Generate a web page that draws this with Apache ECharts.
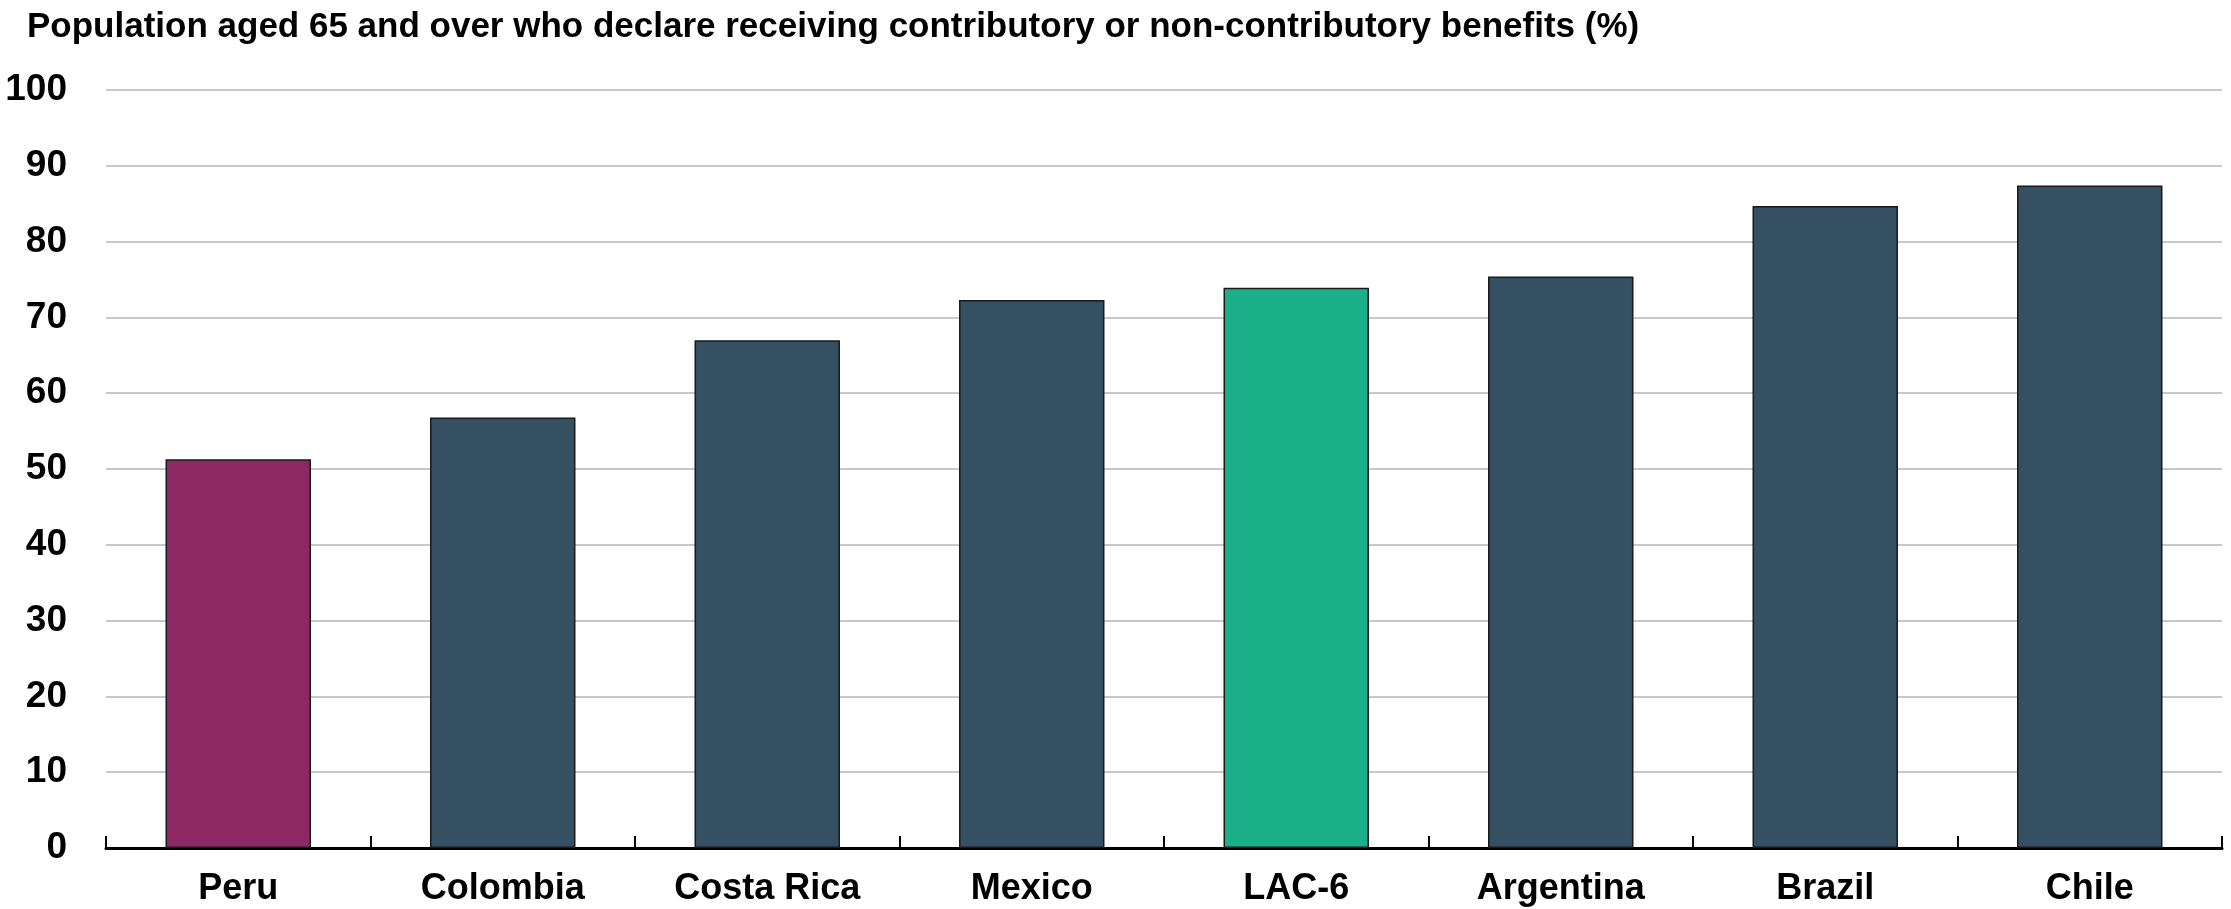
<!DOCTYPE html>
<html>
<head>
<meta charset="utf-8">
<script src="https://cdn.jsdelivr.net/npm/echarts@6/dist/echarts.min.js"></script>
<style>
  html, body { margin: 0; padding: 0; background: #ffffff; }
  #chart { width: 2231px; height: 909px; }
</style>
</head>
<body>
<div id="chart"></div>
<script>
// Share of people aged 65+ receiving contributory or non-contributory benefits
const categories = ['Peru', 'Colombia', 'Costa Rica', 'Mexico', 'LAC-6', 'Argentina', 'Brazil', 'Chile'];
const coverage = [51.3, 56.8, 67.0, 72.3, 73.9, 75.4, 84.7, 87.4];
const yTicks = [0, 10, 20, 30, 40, 50, 60, 70, 80, 90, 100];
const titleText = 'Population aged 65 and over who declare receiving contributory or non-contributory benefits (%)';

const COLOR_DEFAULT = '#354F63';
const COLOR_FOCUS = '#8E2864';
const COLOR_AVERAGE = '#1BAF8A';

function barColor(name) {
  if (name === 'Peru') return COLOR_FOCUS;
  if (name === 'LAC-6') return COLOR_AVERAGE;
  return COLOR_DEFAULT;
}

const FONT = '"Liberation Sans", Arial, sans-serif';

const chart = echarts.init(document.getElementById('chart'), null, { renderer: 'canvas' });

chart.setOption({
  backgroundColor: '#ffffff',
  animation: false,
  title: {
    text: titleText,
    left: 22,
    top: 5,
    textStyle: { fontFamily: FONT, fontWeight: 'bold', fontSize: 35, color: '#000000' }
  },
  grid: { left: 106, right: 9, top: 90, bottom: 61, containLabel: false },
  xAxis: {
    type: 'category',
    data: categories,
    boundaryGap: true,
    axisLine: { show: true, lineStyle: { color: '#000000', width: 3 } },
    axisTick: { show: true, inside: true, length: 12, alignWithLabel: false, lineStyle: { color: '#000000', width: 2 } },
    axisLabel: {
      margin: 23,
      fontFamily: FONT, fontWeight: 'bold', fontSize: 36, color: '#000000',
      interval: 0
    },
    splitLine: { show: false }
  },
  yAxis: {
    type: 'value',
    min: yTicks[0],
    max: yTicks[yTicks.length - 1],
    interval: yTicks[1] - yTicks[0],
    axisLine: { show: false },
    axisTick: { show: false },
    axisLabel: {
      margin: 39,
      fontFamily: FONT, fontWeight: 'bold', fontSize: 37, color: '#000000'
    },
    splitLine: { show: true, lineStyle: { color: '#c8c8c8', width: 2 } }
  },
  series: [{
    type: 'bar',
    barWidth: '55%',
    data: categories.map((name, i) => ({
      value: coverage[i],
      itemStyle: { color: barColor(name) }
    })),
    itemStyle: { borderColor: '#1a1a1a', borderWidth: 1.5 },
    z: 2
  }]
});
</script>
</body>
</html>
